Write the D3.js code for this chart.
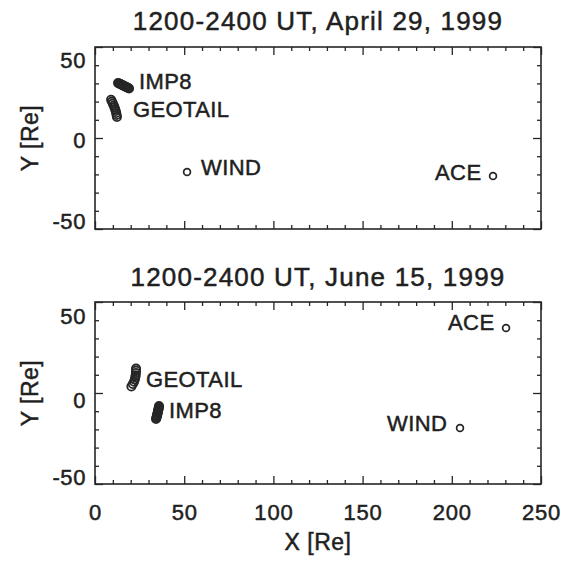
<!DOCTYPE html>
<html>
<head>
<meta charset="utf-8">
<script src="https://cdn.jsdelivr.net/npm/d3@7"></script>
<style>
  html, body { margin: 0; padding: 0; background: #fff; }
  svg { display: block; }
  text { font-family: "Liberation Sans", Arial, Helvetica, sans-serif; fill: #1f1f1f;
         stroke: #1f1f1f; stroke-width: 0.5px; }
</style>
</head>
<body>
<script>
// ---------------- data ----------------
const titles = ["1200-2400 UT, April 29, 1999", "1200-2400 UT, June 15, 1999"];
const xTickLabels = [0, 50, 100, 150, 200, 250];
const yTickLabels = [-50, 0, 50];
const xTitle = "X [Re]";
const yTitle = "Y [Re]";

// April 29, 1999 positions [X, Y] in Re
const aprImp8 = [[12.9,30.2],[13.4,30.0],[13.9,29.8],[14.4,29.5],[14.9,29.3],[15.4,29.0],[15.9,28.8],
                 [16.4,28.5],[17.0,28.3],[17.5,28.0],[18.0,27.8],[18.6,27.5],[19.1,27.2]];
const aprGeotail = [[9.0,21.0],[9.5,20.0],[10.0,18.9],[10.5,17.9],[10.9,16.9],[11.3,15.8],
                    [11.6,14.8],[11.9,13.7],[12.1,12.6],[12.3,11.5]];
const aprWind = [[51.6,-18.7]];
const aprAce = [[223.1,-20.9]];
const aprLabels = [
  {name: "IMP8", x: 24.7, y: 26.9},
  {name: "GEOTAIL", x: 21.3, y: 11.5},
  {name: "WIND", x: 59.4, y: -20.3},
  {name: "ACE", x: 190.6, y: -23.1}
];

// June 15, 1999 positions [X, Y] in Re
const junGeotail = [[23.0,13.4],[23.0,12.2],[22.9,11.0],[22.8,9.8],[22.6,8.6],[22.3,7.4],
                    [21.9,6.2],[21.2,4.9],[20.4,3.6]];
const junImp8 = [[35.9,-7.1],[35.8,-7.7],[35.7,-8.3],[35.6,-8.9],[35.4,-9.5],[35.3,-10.1],[35.2,-10.7],
                 [35.0,-11.3],[34.9,-11.9],[34.7,-12.5],[34.6,-13.1],[34.4,-13.7],[34.2,-14.3]];
const junWind = [[204.6,-19.2]];
const junAce = [[230.4,35.7]];
const junLabels = [
  {name: "ACE", x: 197.9, y: 34.6},
  {name: "GEOTAIL", x: 28.6, y: 3.3},
  {name: "IMP8", x: 41.5, y: -13.7},
  {name: "WIND", x: 163.7, y: -20.9}
];

// ---------------- layout / style ----------------
const W = 561, H = 561;
const left = 95, right = 541;
const ink = "#262626";
const panels = [
  {title: titles[0], top: 47, bottom: 229, titleY: 30,
   tracks: [aprImp8, aprGeotail], singles: [aprWind, aprAce], labels: aprLabels,
   yNudge: {"50": 13, "0": 2, "-50": -8}},
  {title: titles[1], top: 302, bottom: 484, titleY: 286,
   tracks: [junGeotail, junImp8], singles: [junWind, junAce], labels: junLabels,
   yNudge: {"50": 14, "0": 7, "-50": -7}}
];
const fmt = v => String(v).replace("\u2212", "-");

const svg = d3.select("body").append("svg").attr("width", W).attr("height", H);
svg.append("rect").attr("width", W).attr("height", H).attr("fill", "#fff");

const x = d3.scaleLinear().domain([0, 250]).range([left, right]);
const xMinor = x.ticks(25).filter(v => v % 50 !== 0);
const xMajor = xTickLabels;

panels.forEach((p, i) => {
  const y = d3.scaleLinear().domain([-50, 50]).range([p.bottom, p.top]);
  const yMinor = y.ticks(10).filter(v => v % 50 !== 0);
  const yMajor = yTickLabels;
  const g = svg.append("g");

  // title
  g.append("text").attr("x", 318).attr("y", p.titleY).attr("text-anchor", "middle")
    .style("font-size", "26px").style("letter-spacing", "1.2px").text(p.title);

  function styleAxis(sel) {
    sel.select(".domain").remove();
    sel.selectAll(".tick line").attr("stroke", ink).attr("stroke-width", 1.3);
    sel.selectAll(".tick text").remove();
  }
  // ticks (inward, all four sides)
  [[xMinor, 4], [xMajor, 8]].forEach(([vals, len]) => {
    g.append("g").attr("transform", `translate(0,${p.bottom})`)
      .call(d3.axisBottom(x).tickValues(vals).tickSizeInner(-len).tickSizeOuter(0)).call(styleAxis);
    g.append("g").attr("transform", `translate(0,${p.top})`)
      .call(d3.axisTop(x).tickValues(vals).tickSizeInner(-len).tickSizeOuter(0)).call(styleAxis);
  });
  [[yMinor, 4], [yMajor, 8]].forEach(([vals, len]) => {
    g.append("g").attr("transform", `translate(${left},0)`)
      .call(d3.axisLeft(y).tickValues(vals).tickSizeInner(-len).tickSizeOuter(0)).call(styleAxis);
    g.append("g").attr("transform", `translate(${right},0)`)
      .call(d3.axisRight(y).tickValues(vals).tickSizeInner(-len).tickSizeOuter(0)).call(styleAxis);
  });

  // frame
  g.append("rect").attr("x", left).attr("y", p.top)
    .attr("width", right - left).attr("height", p.bottom - p.top)
    .attr("fill", "none").attr("stroke", ink).attr("stroke-width", 1.6);

  // y tick labels
  const yl = g.append("g").attr("transform", `translate(${left},0)`)
    .call(d3.axisLeft(y).tickValues(yMajor).tickSize(0).tickPadding(9).tickFormat(fmt));
  yl.select(".domain").remove();
  yl.selectAll(".tick text")
    .attr("dy", d => (0.35 * 22 + p.yNudge[String(d)]) + "px")
    .style("font-size", "22px").style("letter-spacing", "0.6px")
    .style("font-family", "'Liberation Sans', Arial, sans-serif")
    .attr("fill", "#1f1f1f").attr("stroke", "#1f1f1f").attr("stroke-width", 0.5);

  // y title
  g.append("text")
    .attr("transform", `translate(38,${(p.top + p.bottom) / 2}) rotate(-90)`)
    .attr("text-anchor", "middle").style("font-size", "23px").style("letter-spacing", "0.5px")
    .text(yTitle);

  // tracks (overlapping open circles)
  p.tracks.forEach(track => {
    g.append("g").selectAll("circle").data(track).join("circle")
      .attr("cx", d => x(d[0])).attr("cy", d => y(d[1])).attr("r", 4.1)
      .attr("fill", "none").attr("stroke", ink).attr("stroke-width", 1.8);
  });
  p.singles.forEach(s => {
    g.append("g").selectAll("circle").data(s).join("circle")
      .attr("cx", d => x(d[0])).attr("cy", d => y(d[1])).attr("r", 3.4)
      .attr("fill", "none").attr("stroke", ink).attr("stroke-width", 1.7);
  });

  // spacecraft labels
  g.append("g").selectAll("text").data(p.labels).join("text")
    .attr("x", d => x(d.x)).attr("y", d => y(d.y))
    .style("font-size", "22px").style("letter-spacing", "0.4px")
    .text(d => d.name);

  // x tick labels & title only on the bottom panel
  if (i === panels.length - 1) {
    const xl = g.append("g").attr("transform", `translate(0,${p.bottom})`)
      .call(d3.axisBottom(x).tickValues(xMajor).tickSize(0).tickFormat(fmt));
    xl.select(".domain").remove();
    xl.selectAll(".tick text").attr("y", 36).attr("dy", 0)
      .style("font-size", "22px").style("letter-spacing", "0.8px")
      .style("font-family", "'Liberation Sans', Arial, sans-serif")
      .attr("fill", "#1f1f1f").attr("stroke", "#1f1f1f").attr("stroke-width", 0.5);
    g.append("text").attr("x", (left + right) / 2).attr("y", 550)
      .attr("text-anchor", "middle").style("font-size", "23px").style("letter-spacing", "0.5px")
      .text(xTitle);
  }
});
</script>
</body>
</html>
